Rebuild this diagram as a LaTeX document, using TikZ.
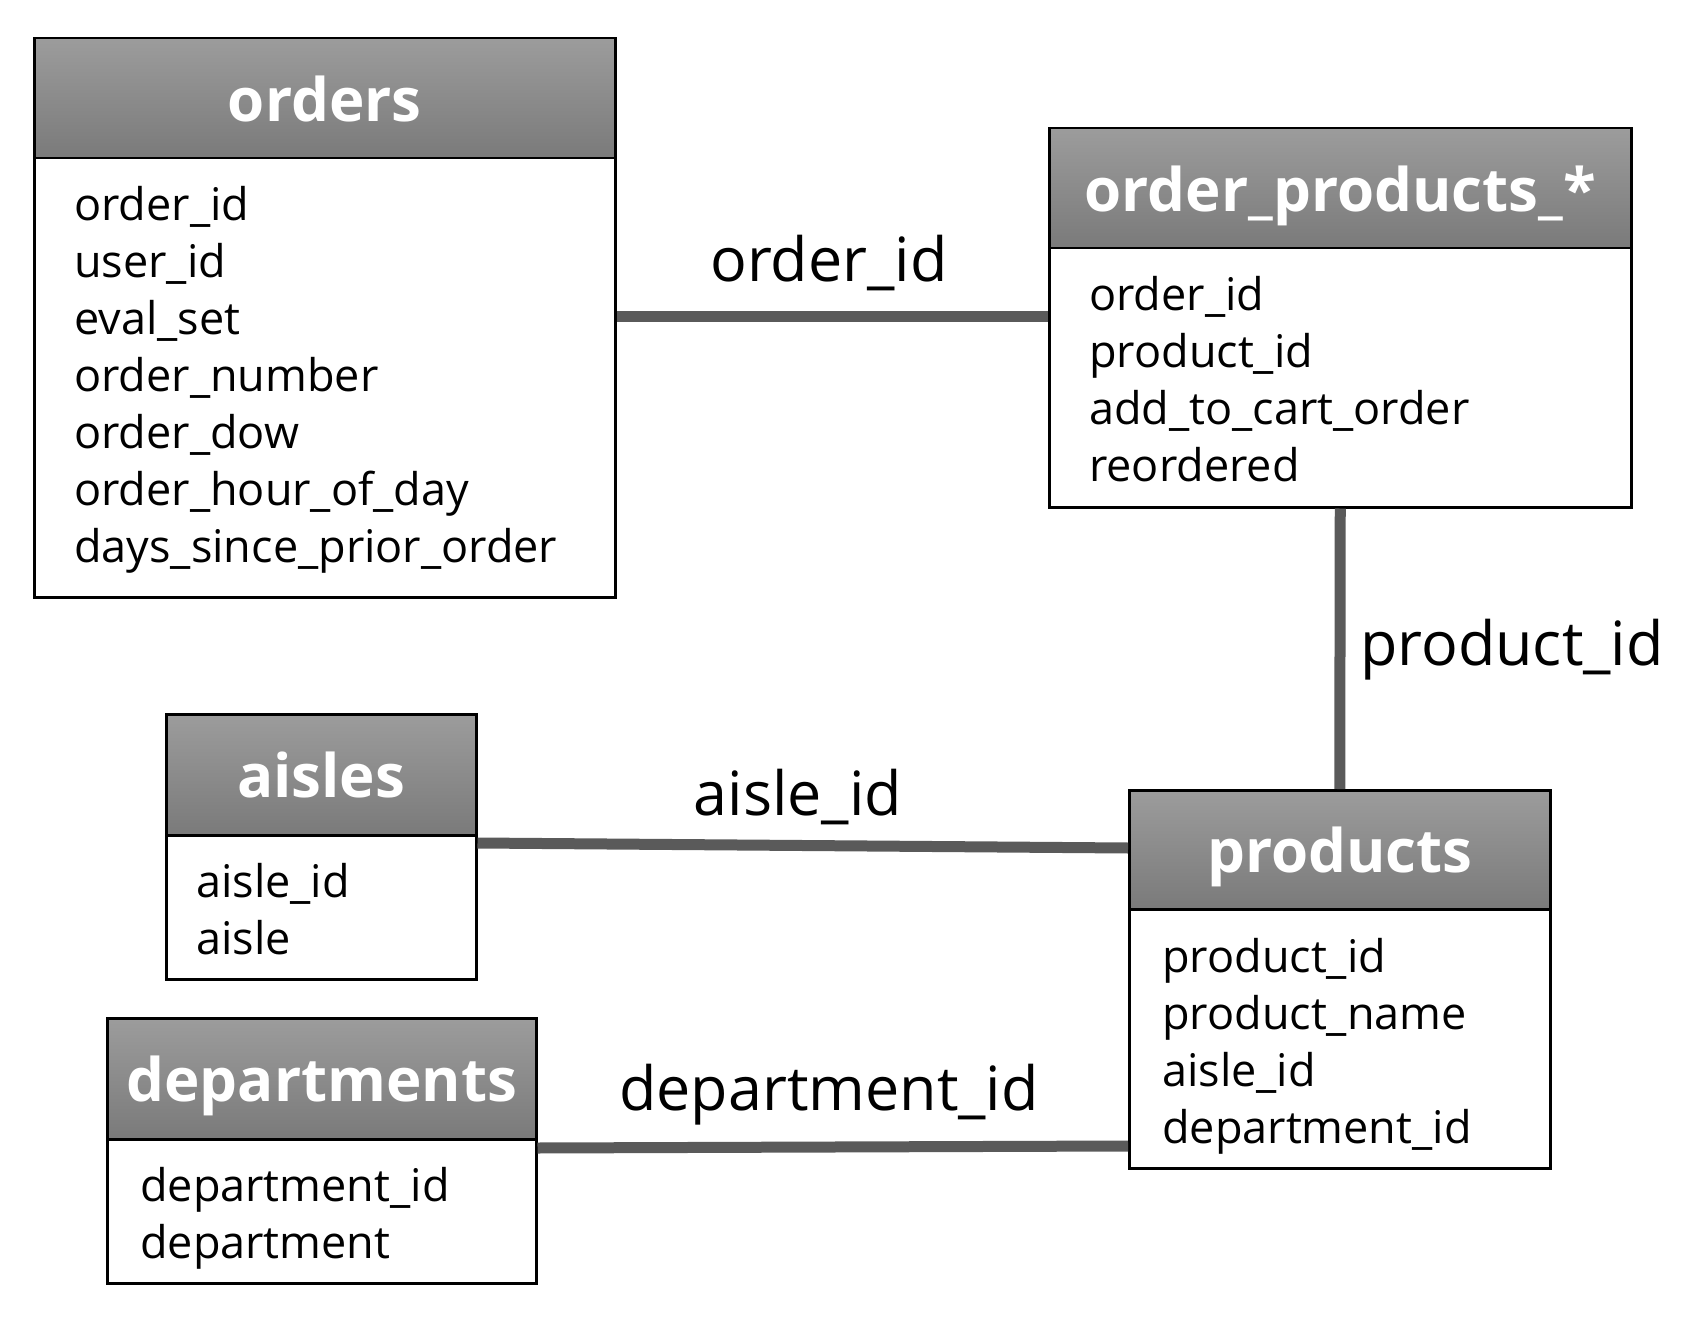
\documentclass[tikz,border=0pt]{standalone}
\usepackage{fontspec}
\setmainfont{Open Sans}
\definecolor{hdtop}{RGB}{156,156,156}
\definecolor{hdbot}{RGB}{122,122,122}
\definecolor{conncol}{RGB}{90,90,90}
\begin{document}
\begin{tikzpicture}[x=1pt,y=-1pt,
  hdr/.style={draw=black, line width=2.5pt, rectangle, top color=hdtop, bottom color=hdbot, anchor=north west, inner sep=0pt, text depth=0pt, text=white, font=\fontsize{60}{64}\selectfont\bfseries},
  bodybox/.style={draw=black, line width=2.5pt, rectangle, fill=white, anchor=north west, inner sep=0pt},
  rows/.style={anchor=north west, inner sep=0pt, align=left, font=\fontsize{45}{57}\selectfont},
  conn/.style={draw=conncol, line width=11pt},
  lbl/.style={inner sep=0pt, font=\fontsize{61}{64}\selectfont}]
\useasboundingbox (0,0) rectangle (1706,1324);
% orders
\node[bodybox, minimum width=581pt, minimum height=439pt] (ordersB) at (33,157) {};
\node[hdr, minimum width=581pt, minimum height=120pt] (ordersH) at (33,37) {orders};
\node[rows] (ordersT) at (74,186) {order\_id\\user\_id\\eval\_set\\order\_number\\order\_dow\\order\_hour\_of\_day\\days\_since\_prior\_order};
% order_products
\node[bodybox, minimum width=582pt, minimum height=259pt] (opB) at (1048,247) {};
\node[hdr, minimum width=582pt, minimum height=120pt] (opH) at (1048,127) {order\_products\_*};
\node[rows] (opT) at (1089,276) {order\_id\\product\_id\\add\_to\_cart\_order\\reordered};
% aisles
\node[bodybox, minimum width=310pt, minimum height=144pt] (aisB) at (165,834) {};
\node[hdr, minimum width=310pt, minimum height=121pt] (aisH) at (165,713) {aisles};
\node[rows] (aisT) at (196,863) {aisle\_id\\aisle};
% departments
\node[bodybox, minimum width=429pt, minimum height=144pt] (depB) at (106,1138) {};
\node[hdr, minimum width=429pt, minimum height=121pt] (depH) at (106,1017) {departments};
\node[rows] (depT) at (140,1167) {department\_id\\department};
% products
\node[bodybox, minimum width=421pt, minimum height=259pt] (prodB) at (1128,908) {};
\node[hdr, minimum width=421pt, minimum height=119pt] (prodH) at (1128,789) {products};
\node[rows] (prodT) at (1162,938) {product\_id\\product\_name\\aisle\_id\\department\_id};
% connectors
\draw[conn] (ordersB.east |- 0,317) -- (opB.west |- 0,317);
\draw[conn] (opB.south) -- (prodH.north);
\draw[conn] (aisB.east |- 0,843) -- (prodH.west |- 0,848);
\draw[conn] (depB.east |- 0,1148) -- (prodB.west |- 0,1146);
% labels
\node[lbl] (l1) at (829,263) {order\_id};
\node[lbl, anchor=west] (l2) at (1360,650) {product\_id};
\node[lbl] (l3) at (798,797) {aisle\_id};
\node[lbl] (l4) at (829,1095) {department\_id};
\end{tikzpicture}
\end{document}
